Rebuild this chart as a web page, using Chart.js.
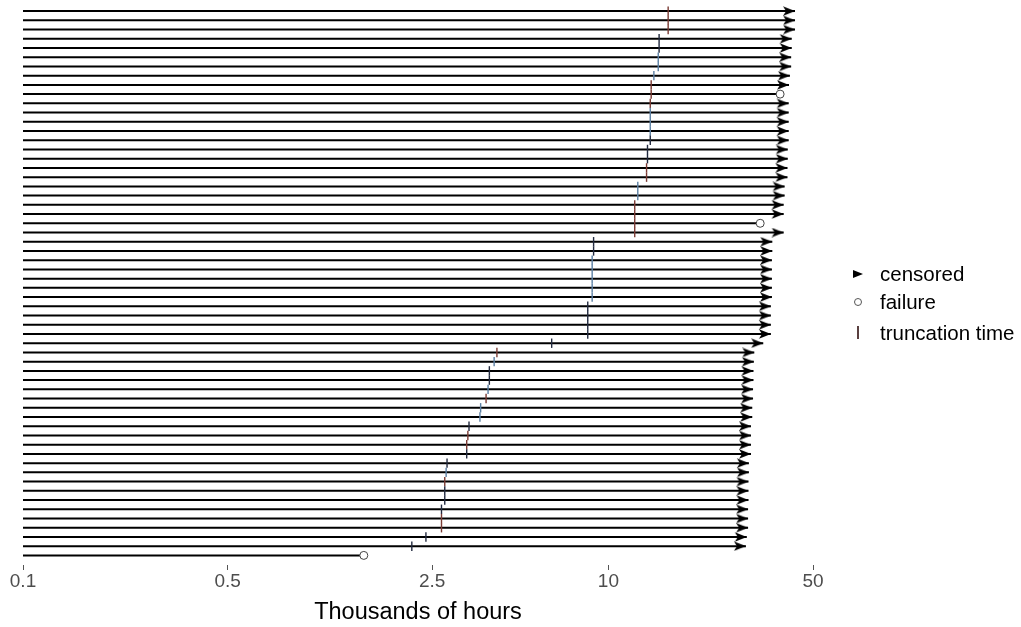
<!DOCTYPE html>
<html><head><meta charset="utf-8">
<script src="https://cdn.jsdelivr.net/npm/chart.js@4.4.0/dist/chart.umd.min.js"></script>
<style>
html,body{margin:0;padding:0;background:#fff;}
#wrap{position:relative;width:1021px;height:627px;overflow:hidden;}
canvas{position:absolute;left:0;top:0;}
.lg{position:absolute;font-family:"Liberation Sans",Arial,sans-serif;font-size:20.5px;color:#000;line-height:24px;height:24px;white-space:nowrap;}
.gl{position:absolute;}
</style></head>
<body><div id="wrap"><canvas id="c" width="1021" height="627"></canvas>
<div class="gl" style="left:853px;top:270px;width:0;height:0;border-top:4px solid transparent;border-bottom:4px solid transparent;border-left:10px solid #000;"></div>
<div class="lg" style="left:880px;top:262px;">censored</div>
<div class="gl" style="left:854px;top:298px;width:6px;height:6px;border:1px solid #555;border-radius:50%;background:#fff;"></div>
<div class="lg" style="left:880px;top:290px;">failure</div>
<div class="gl" style="left:857px;top:326px;width:1.5px;height:13px;background:#5a4040;"></div>
<div class="lg" style="left:880px;top:321px;">truncation time</div>
</div>
<script>
// ---- data (row 1 = top of chart) ----
const unitIds = [1,2,3,4,5,6,7,8,9,10,11,12,13,14,15,16,17,18,19,20,21,22,23,24,25,26,27,28,29,30,
                 31,32,33,34,35,36,37,38,39,40,41,42,43,44,45,46,47,48,49,50,51,52,53,54,55,56,57,58,59,60];
// end of observation (thousands of hours)
const endTimes = [43.4,43.4,43.4,42.3,42.3,42.1,42.1,41.7,41.4,38.6,
                  41.3,41.3,41.3,41.3,41.3,41.0,41.0,40.9,40.9,40.0,
                  40.0,39.7,39.7,33.0,39.7,36.3,36.3,36.2,36.2,36.2,
                  36.2,36.2,35.9,35.9,35.9,35.9,33.8,31.5,31.4,31.3,
                  31.3,31.2,31.2,31.0,31.0,30.7,30.7,30.7,30.7,30.2,
                  30.2,30.1,30.1,30.1,30.0,30.0,30.0,29.7,29.5,1.46];
// C = censored, F = failure
const status = ['C','C','C','C','C','C','C','C','C','F',
                'C','C','C','C','C','C','C','C','C','C',
                'C','C','C','F','C','C','C','C','C','C',
                'C','C','C','C','C','C','C','C','C','C',
                'C','C','C','C','C','C','C','C','C','C',
                'C','C','C','C','C','C','C','C','C','F'];
// truncation times (thousands of hours)
const truncTimes = [16.0,16.0,16.0,14.9,14.9,14.8,14.8,14.3,14.0,14.0,
                    13.9,13.9,13.9,13.9,13.9,13.6,13.6,13.5,13.5,12.6,
                    12.6,12.3,12.3,12.3,12.3,8.9,8.9,8.8,8.8,8.8,
                    8.8,8.8,8.5,8.5,8.5,8.5,6.4,4.16,4.07,3.92,
                    3.92,3.88,3.82,3.66,3.64,3.34,3.31,3.28,3.28,2.81,
                    2.79,2.76,2.76,2.76,2.69,2.69,2.69,2.38,2.13,null];
// group of each truncation mark (colour class)
const truncGroup = ['a','a','a','b','b','c','c','c','a','a',
                    'a','c','c','c','b','b','b','a','a','c',
                    'c','a','a','a','a','b','b','c','c','c',
                    'c','c','b','b','b','b','b','a','c','b',
                    'b','c','a','c','c','b','a','a','b','b',
                    'c','a','b','b','b','a','a','b','b','b'];
const tickValues = [0.1, 0.5, 2.5, 10, 50];
const tickLabels = ['0.1', '0.5', '2.5', '10', '50'];
const xTitle = 'Thousands of hours';

// ---- styles ----
const palette = {a:'#7a3b34', b:'#222a3f', c:'#5b7fa3'};

function arrowImage(){
  const c = document.createElement('canvas');
  c.width = 26; c.height = 10;
  const g = c.getContext('2d');
  g.fillStyle = '#000';
  g.beginPath();
  g.moveTo(13, 5); g.lineTo(1, 0.2); g.lineTo(4, 5); g.lineTo(1, 9.8);
  g.closePath(); g.fill();
  return c;
}
const arrow = arrowImage();

const datasets = [];
const truncIdx = unitIds.map((u,i)=>i).filter(i=>truncTimes[i]!=null);
// truncation marks (top)
datasets.push({
  type:'scatter', order:1,
  data: truncIdx.map(i=>({x:truncTimes[i], y:unitIds[i]})),
  pointStyle:'line', rotation:90, pointRadius:4.7, pointBorderWidth:1.4,
  pointBorderColor: truncIdx.map(i=>palette[truncGroup[i]]),
  showLine:false
});
// failures
datasets.push({
  type:'scatter', order:2,
  data: unitIds.map((u,i)=> status[i]==='F' ? {x:endTimes[i], y:u} : null).filter(d=>d),
  pointStyle:'circle', pointRadius:4, pointBorderWidth:1, pointBorderColor:'#444', pointBackgroundColor:'#fff',
  showLine:false
});
// censored arrows
datasets.push({
  type:'scatter', order:3,
  data: unitIds.map((u,i)=> status[i]==='C' ? {x:endTimes[i], y:u} : null).filter(d=>d),
  pointStyle: arrow, pointRadius:5, showLine:false
});
// lines
unitIds.forEach((u,i)=>{
  datasets.push({
    type:'scatter', order:10, showLine:true,
    data:[{x:tickValues[0], y:u},{x:endTimes[i], y:u}],
    borderColor:'#000', borderWidth:2, pointRadius:0, borderCapStyle:'butt'
  });
});

new Chart(document.getElementById('c'), {
  type:'scatter',
  data:{datasets},
  options:{
    responsive:false, animation:false,
    layout:{padding:{left:23, right:208, top:5, bottom:0}},
    plugins:{legend:{display:false}, tooltip:{enabled:false}},
    scales:{
      x:{
        type:'logarithmic', min:0.1, max:50,
        afterBuildTicks:(s)=>{ s.ticks = tickValues.map(v=>({value:v})); },
        afterFit:(s)=>{ s.height = 62; },
        grid:{drawOnChartArea:false, drawTicks:true, tickLength:5, color:'#555', lineWidth:1},
        border:{display:false},
        ticks:{autoSkip:false, maxRotation:0, padding:0, color:'#4D4D4D',
               font:{family:'"Liberation Sans", Arial, sans-serif', size:19},
               callback:(v)=>{ const k = tickValues.indexOf(v); return k>=0 ? tickLabels[k] : ''; }},
        title:{display:true, text:xTitle, color:'#000',
               font:{family:'"Liberation Sans", Arial, sans-serif', size:23.5},
               padding:{top:0, bottom:0}}
      },
      y:{type:'linear', reverse:true, min:0.459, max:61.04, display:false}
    }
  }
});
</script></body></html>
